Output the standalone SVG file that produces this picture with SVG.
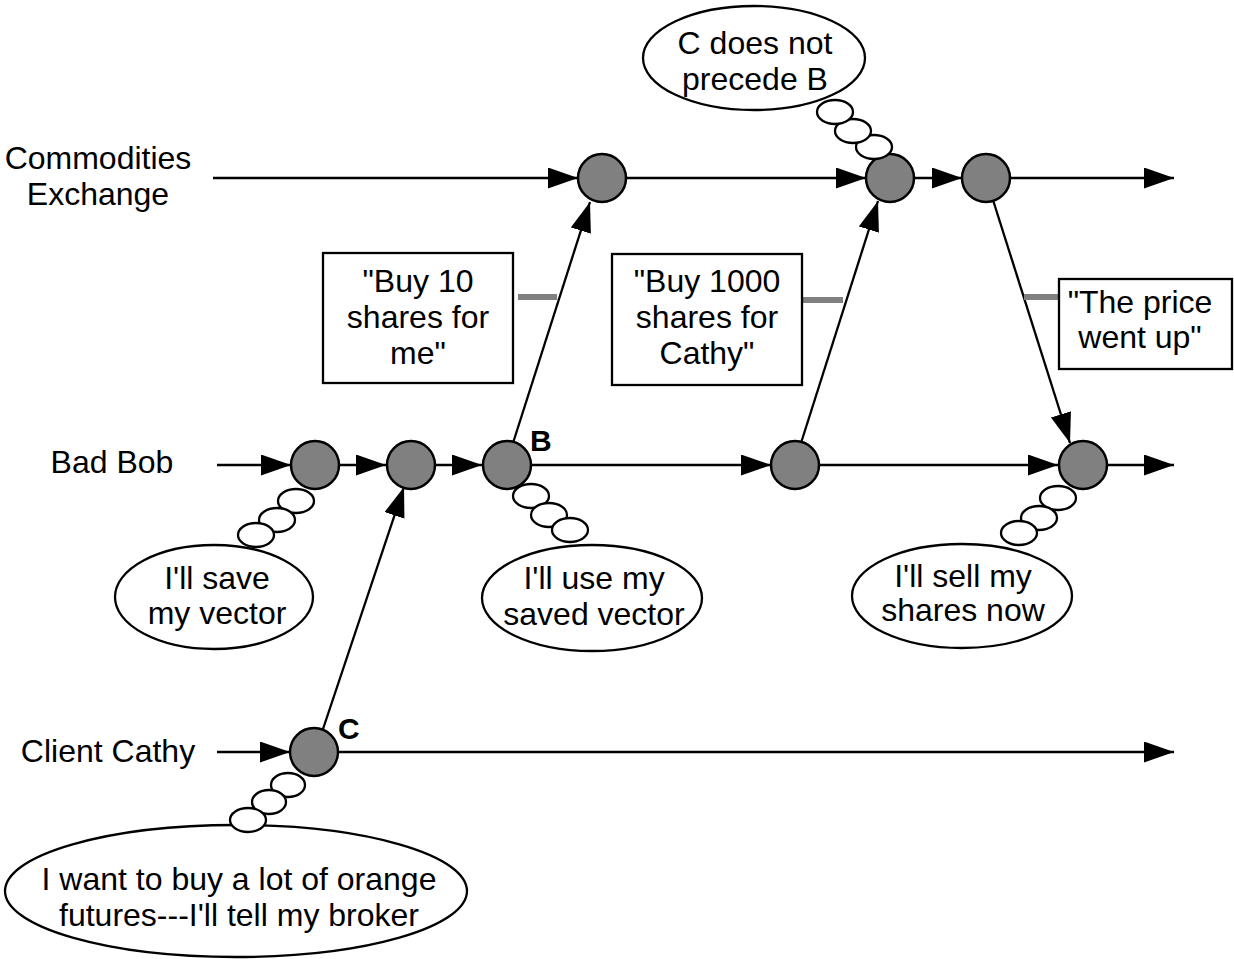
<svg xmlns="http://www.w3.org/2000/svg" width="1234" height="959" viewBox="0 0 1234 959">
<style>
text{font-family:"Liberation Sans",Arial,sans-serif;font-size:32px;fill:#000;text-anchor:middle}
.lbl{font-weight:bold;font-size:30px;text-anchor:start}
.ev{fill:#808080;stroke:#000;stroke-width:2.5}
.arr{stroke:#000;stroke-width:2.3;fill:none;marker-end:url(#ah)}
.th{fill:#fff;stroke:#000;stroke-width:2.3}
.box{fill:#fff;stroke:#000;stroke-width:2.3}
.tie{stroke:#808080;stroke-width:6}
</style>
<defs>
<marker id="ah" markerUnits="userSpaceOnUse" markerWidth="30" markerHeight="22" refX="30" refY="10.5" orient="auto">
<path d="M0,0 L30,10.5 L0,21 Z" fill="#000"/>
</marker>
</defs>
<g id="labels">
<text x="98" y="169">Commodities</text>
<text x="98" y="205">Exchange</text>
<text x="112" y="473">Bad Bob</text>
<text x="108" y="762">Client Cathy</text>
</g>
<g id="connectors">
<line class="arr" x1="213" y1="178" x2="578" y2="178"/>
<line class="arr" x1="626" y1="178" x2="866" y2="178"/>
<line class="arr" x1="914" y1="178" x2="962" y2="178"/>
<line class="arr" x1="1010" y1="178" x2="1174" y2="178"/>
<line class="arr" x1="217" y1="465" x2="291" y2="465"/>
<line class="arr" x1="339" y1="465" x2="386" y2="465"/>
<line class="arr" x1="435" y1="465" x2="482" y2="465"/>
<line class="arr" x1="531" y1="465" x2="771" y2="465"/>
<line class="arr" x1="819" y1="465" x2="1058" y2="465"/>
<line class="arr" x1="1107" y1="465" x2="1174" y2="465"/>
<line class="arr" x1="217" y1="752" x2="290" y2="752"/>
<line class="arr" x1="338" y1="752" x2="1174" y2="752"/>
<line class="arr" x1="322" y1="732" x2="404" y2="487"/>
<line class="arr" x1="513" y1="443" x2="590" y2="202"/>
<line class="arr" x1="801" y1="443" x2="878" y2="201"/>
<line class="arr" x1="993" y1="200" x2="1070" y2="443"/>
<line class="tie" x1="518" y1="297" x2="557" y2="297"/>
<line class="tie" x1="803" y1="300" x2="843" y2="300"/>
<line class="tie" x1="1024" y1="297" x2="1060" y2="297"/>
</g>
<g id="ex1"><circle class="ev" cx="602" cy="178" r="24"/></g>
<g id="ex2"><circle class="ev" cx="890" cy="178" r="24"/></g>
<g id="ex3"><circle class="ev" cx="986" cy="178" r="24"/></g>
<g id="bob1"><circle class="ev" cx="315" cy="465" r="24"/></g>
<g id="bob2"><circle class="ev" cx="411" cy="465" r="24"/></g>
<g id="bob3"><circle class="ev" cx="507" cy="465" r="24"/><text class="lbl" x="530" y="451">B</text></g>
<g id="bob4"><circle class="ev" cx="795" cy="465" r="24"/></g>
<g id="bob5"><circle class="ev" cx="1083" cy="465" r="24"/></g>
<g id="cathy1"><circle class="ev" cx="314" cy="752" r="24"/><text class="lbl" x="338" y="739">C</text></g>
<g id="msg1">
<rect class="box" x="323" y="253" width="190" height="130"/>
<text x="418" y="292">"Buy 10</text>
<text x="418" y="328">shares for</text>
<text x="418" y="364">me"</text>
</g>
<g id="msg2">
<rect class="box" x="612" y="254" width="190" height="131"/>
<text x="707" y="292">"Buy 1000</text>
<text x="707" y="328">shares for</text>
<text x="707" y="364">Cathy"</text>
</g>
<g id="msg3">
<rect class="box" x="1059" y="279" width="173" height="90"/>
<text x="1140" y="313">"The price</text>
<text x="1140" y="348">went up"</text>
</g>
<g id="thought-top">
<ellipse class="th" cx="754" cy="58" rx="111" ry="52"/>
<ellipse class="th" cx="874" cy="147" rx="18" ry="12"/>
<ellipse class="th" cx="853" cy="131" rx="18" ry="12"/>
<ellipse class="th" cx="835" cy="112" rx="18" ry="12"/>
<text x="755" y="54">C does not</text>
<text x="755" y="90">precede B</text>
</g>
<g id="thought-save">
<ellipse class="th" cx="214" cy="597" rx="99" ry="52"/>
<ellipse class="th" cx="296" cy="501" rx="18" ry="12"/>
<ellipse class="th" cx="277" cy="520" rx="18" ry="12"/>
<ellipse class="th" cx="256" cy="535" rx="18" ry="12"/>
<text x="217" y="589">I'll save</text>
<text x="217" y="624">my vector</text>
</g>
<g id="thought-use">
<ellipse class="th" cx="592" cy="598" rx="110" ry="53"/>
<ellipse class="th" cx="531" cy="496" rx="18" ry="12"/>
<ellipse class="th" cx="549" cy="515" rx="18" ry="12"/>
<ellipse class="th" cx="570" cy="530" rx="18" ry="12"/>
<text x="594" y="589">I'll use my</text>
<text x="594" y="625">saved vector</text>
</g>
<g id="thought-sell">
<ellipse class="th" cx="962" cy="596" rx="110" ry="52"/>
<ellipse class="th" cx="1058" cy="498" rx="18" ry="12"/>
<ellipse class="th" cx="1039" cy="518" rx="18" ry="12"/>
<ellipse class="th" cx="1019" cy="533" rx="18" ry="12"/>
<text x="963" y="587">I'll sell my</text>
<text x="963" y="621">shares now</text>
</g>
<g id="thought-cathy">
<ellipse class="th" cx="236" cy="891" rx="231" ry="66"/>
<ellipse class="th" cx="288" cy="785" rx="17" ry="12"/>
<ellipse class="th" cx="269" cy="802" rx="17" ry="12"/>
<ellipse class="th" cx="248" cy="820" rx="18" ry="12"/>
<text x="239" y="890">I want to buy a lot of orange</text>
<text x="239" y="926">futures---I'll tell my broker</text>
</g>
</svg>
